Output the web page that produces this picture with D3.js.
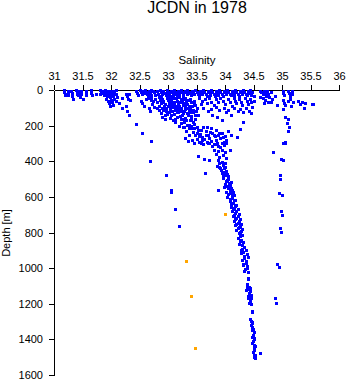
<!DOCTYPE html>
<html>
<head>
<meta charset="utf-8">
<script src="https://cdn.jsdelivr.net/npm/d3@7"></script>
<style>
  html, body { margin: 0; padding: 0; background: #fff; }
  svg { display: block; font-family: "Liberation Sans", Arial, Helvetica, sans-serif; }
</style>
</head>
<body>
<svg id="chart" width="348" height="384"></svg>
<script>
// Axis ticks
const salinityTicks = [31, 31.5, 32, 32.5, 33, 33.5, 34, 34.5, 35, 35.5, 36];
const depthTicks = [0, 200, 400, 600, 800, 1000, 1200, 1400, 1600];

// Bottle samples as [salinity, depth in m]
const surfaceLayer = [
  [31.18,2],[31.18,12],[31.19,22],[31.2,30],[31.24,5],[31.25,15],[31.25,28],[31.3,3],[31.31,18],[31.32,35],
  [31.34,48],[31.39,2],[31.4,10],[31.41,20],[31.42,30],[31.44,5],[31.45,15],[31.46,40],[31.48,25],[31.5,50],[31.47,8],
  [31.56,5],[31.57,20],[31.56,30],[31.65,2],[31.65,15],[31.66,28],[31.74,22],
  [31.8,2],[31.82,12],[31.8,25],[31.85,5],[31.86,18],[31.87,30],[31.9,2],[31.9,10],[31.92,22],[31.93,35],
  [31.95,5],[31.96,15],[31.97,28],[31.98,40],[32.0,3],[32.0,12],[32.02,20],[32.03,32],[32.05,5],[32.06,15],
  [32.08,25],[32.09,2],[32.1,40],[32.19,45],[32.26,20],[32.28,35],[32.3,48],[32.32,25],
  [32.44,5],[32.46,18],[32.48,30],[32.5,2],[32.52,12],[32.54,25],[32.56,5],[32.58,15],[32.6,2],[32.62,10],
  [32.63,22],[32.65,32],[32.67,5],[32.68,15],[32.7,2],[32.71,28],
  [32.74,3],[32.76,14],[32.78,26],[32.8,6],[32.82,20],[32.84,34],[32.86,2],[32.88,12],[32.9,24],[32.92,5],
  [32.94,16],[32.96,30],[32.98,2],[33.0,10],[33.02,20],[33.03,36],[33.05,4],[33.07,14],[33.09,26],[33.1,2],
  [33.12,10],[33.14,20],[33.15,32],[33.17,5],[33.19,15],[33.2,26],[33.22,2],[33.24,10],[33.26,20],[33.27,34],
  [33.29,4],[33.31,14],[33.33,24],[33.34,2],[33.36,10],[33.38,18],[33.4,30],[33.42,4],[33.44,14],[33.46,24],
  [33.48,2],[33.5,10],[33.52,20],[33.54,32],[33.56,5],[33.58,15],[33.6,25],[33.62,2],[33.64,12],[33.66,22],
  [33.68,34],[33.7,4],[33.72,14],[33.74,26],[33.76,2],[33.78,10],[33.8,20],[33.82,32],[33.84,5],[33.86,15],
  [33.88,26],[33.9,2],[33.92,10],[33.94,22],[33.96,34],[33.98,4],[34.0,14],[34.02,24],[34.04,2],[34.06,12],
  [34.08,20],[34.1,30],[34.12,5],[34.14,15],[34.16,26],[34.18,2],[34.2,10],[34.22,20],[34.24,34],[34.26,4],
  [34.28,14],[34.3,24],[34.32,2],[34.34,12],[34.36,20],[34.38,30],[34.4,6],[34.42,16],[34.44,2],[34.46,26],
  [34.48,10],[34.5,36],
  [34.62,3],[34.64,14],[34.66,25],[34.68,5],[34.7,18],[34.72,32],[34.74,8],[34.76,20],[34.78,40],[34.8,12],
  [34.88,34],[35.02,3],[35.02,15],[35.03,28],[35.1,5],[35.12,18],[35.14,32],[35.17,8],[35.18,25]
];

const mixedLayer = [
  [31.92,50],[31.95,60],[31.96,75],[32.0,55],[32.02,68],[32.03,85],[32.05,50],[31.98,90],[32.08,62],
  [32.14,73],[32.2,100],[32.26,90],[32.28,118],[32.31,140],[32.33,55],
  [32.53,60],[32.55,75],[32.58,90],[32.62,50],[32.66,45],[32.7,58],[32.67,100],[32.68,118],
  [32.7,45],[32.74,60],[32.72,78],[32.78,50],[32.8,68],[32.76,95],[32.84,42],[32.86,55],[32.88,75],[32.85,88],
  [32.8,100],[32.85,115],[32.9,150],[32.95,165],
  [32.9,48],[32.92,62],[32.94,80],[32.96,100],[32.92,115],[32.98,45],[33.0,58],[33.02,72],[33.0,90],[33.04,105],
  [33.02,125],[33.06,50],[33.08,65],[33.1,82],[33.08,98],[33.12,112],[33.1,135],[33.14,45],[33.16,60],[33.18,75],
  [33.15,92],[33.2,108],[33.18,125],[33.16,150],[33.22,52],[33.24,68],[33.26,85],[33.23,100],[33.28,118],[33.25,140],
  [33.22,165],[33.3,45],[33.32,62],[33.34,80],[33.3,95],[33.36,110],[33.33,130],[33.3,155],[33.28,180],[33.38,50],
  [33.4,70],[33.42,90],[33.39,105],[33.44,125],[33.4,145],[33.38,170],[33.36,195],[33.46,60],[33.48,82],[33.5,100],
  [33.47,118],[33.52,140],[33.48,165],[33.45,190],[33.5,210],
  [32.87,40],[32.89,58],[32.91,70],[32.93,88],[32.95,105],[32.97,120],[32.99,135],[32.88,130],[32.9,100],[32.94,140],
  [33.01,40],[33.03,62],[33.05,80],[33.06,95],[33.07,118],[33.05,140],[33.04,155],[33.08,170],[33.09,45],[33.11,70],
  [33.13,88],[33.14,105],[33.15,125],[33.13,160],[33.12,180],[33.19,40],[33.21,65],[33.2,88],[33.22,120],[33.21,145],
  [33.23,185],[33.26,50],[33.27,75],[33.29,105],[33.27,130],[33.26,160],[33.31,80],[33.33,100],[33.35,140],[33.32,170],
  [33.35,55],[33.37,90],[33.39,125],[33.41,160],[33.43,110],[33.45,75],[33.47,140],[33.43,180],[33.49,120],[33.41,200],
  [33.37,215],[33.33,195],[33.19,200],[33.26,205],
  [33.55,45],[33.6,60],[33.58,80],[33.65,50],[33.68,72],[33.62,100],[33.7,120],[33.72,45],[33.76,65],[33.8,85],
  [33.75,105],[33.78,140],[33.85,50],[33.88,70],[33.84,95],[33.9,115],[33.86,150],[33.92,45],[33.96,60],[34.0,80],
  [33.98,100],[34.02,125],[33.95,170],[34.05,50],[34.08,65],[34.12,90],[34.06,110],[34.1,140],[34.15,45],[34.18,60],
  [34.2,75],[34.16,100],[34.22,120],[34.25,50],[34.28,65],[34.3,85],[34.26,105],[34.32,125],[34.35,45],[34.38,60],
  [34.4,80],[34.36,100],[34.42,120],[34.44,50],[34.46,70],[34.48,95],[34.45,130],[34.5,60],
  [34.66,45],[34.7,55],[34.75,65],[34.8,70],[34.82,52],[34.68,75],[34.62,40],[34.91,84],
  [35.02,55],[35.03,75],[35.02,107],[35.06,85],[35.1,62],[35.14,50],[35.16,92],[35.2,70],
  [35.28,62],[35.32,80],[35.38,100],[35.35,70],[35.4,75],[35.53,80],[35.54,78]
];

const thermocline = [
  [32.44,191],[32.54,241],[32.7,286],[32.69,399],[32.96,477],[33.05,563],[33.06,575],[33.12,668],[33.2,763],
  [33.28,210],[33.32,230],[33.36,250],[33.3,270],[33.4,215],[33.44,235],[33.48,255],[33.42,280],[33.52,225],
  [33.56,245],[33.6,265],[33.55,290],[33.62,205],[33.66,230],[33.7,250],[33.64,275],[33.7,300],[33.75,215],
  [33.78,240],[33.82,260],[33.76,285],[33.85,225],[33.88,250],[33.92,270],[33.86,300],[33.95,240],[34.0,260],
  [34.05,230],[34.1,250],[33.98,290],[34.21,264],[34.26,219],[34.32,180],
  [33.45,215],[33.5,240],[33.54,260],[33.58,225],[33.6,282],[33.66,250],[33.68,210],[33.72,270],[33.74,235],
  [33.8,250],[33.84,280],[33.9,240],[33.94,300],[33.96,265],[34.02,280],[33.8,305],[33.88,315],[33.68,290],
  [33.58,300],[33.5,275],
  [33.35,285],[33.45,295],[33.62,305],[33.72,300],[33.78,315],[33.85,305],[33.92,320],[33.98,310],[34.02,295],
  [33.8,335],[33.88,345],[33.95,335],[34.0,350],[34.09,337],[33.84,360],[33.9,375],[33.96,365],[34.02,380],
  [33.53,371],[33.63,388],[33.72,392],[33.88,395],[33.94,405],[34.0,410],[33.86,425],[33.92,440],
  [33.9,410],[33.96,420],[34.0,430],[33.65,466],[33.88,561]
];

const deepProfile = [
  [33.9,430],[33.98,440],[34.02,455],[33.94,465],[34.0,475],[34.06,485],[33.96,495],[34.04,505],[34.1,515],
  [34.0,525],[34.08,535],[33.98,545],[34.06,550],[34.12,560],[34.02,570],[34.1,580],[34.16,590],[34.04,600],
  [34.12,608],[34.18,615],[34.08,625],[34.14,635],[34.2,645],[34.1,655],[34.16,662],[34.22,670],[34.12,680],
  [34.18,690],[34.24,698],[34.14,708],[34.2,718],[34.26,725],[34.16,735],[34.22,745],[34.28,752],[34.18,760],
  [34.24,770],[34.3,778],[34.2,785],[34.26,795],
  [33.93,450],[33.99,460],[34.03,470],[33.97,480],[34.05,498],[34.01,510],[34.07,520],[34.04,540],[34.1,548],
  [34.08,565],[34.14,572],[34.06,585],[34.13,595],[34.09,610],[34.15,620],[34.11,640],[34.18,650],[34.14,668],
  [34.2,678],[34.16,700],[34.22,710],[34.18,725],[34.24,735],[34.2,750],[34.26,762],[34.22,775],[34.28,790],
  [34.24,805],[34.3,815],[34.26,820],
  [34.22,830],[34.28,840],[34.32,855],[34.25,865],[34.3,890],[34.36,900],[34.28,915],[34.34,930],[34.4,940],
  [34.3,955],[34.36,970],[34.32,985],[34.38,1000],[34.34,1015],[34.4,1055],[34.38,1100],[34.44,1110],[34.36,1125],
  [34.42,1140],[34.46,1150],[34.4,1165],[34.44,1180],[34.42,1195],[34.47,1246],[34.44,1285],[34.48,1300],
  [34.46,1318],[34.49,1340],[34.5,1360],[34.47,1385],[34.5,1400],[34.48,1420],[34.52,1435],[34.5,1450],
  [34.49,1470],[34.52,1485],[34.51,1500],[34.61,1476],
  [34.26,845],[34.3,870],[34.33,880],[34.28,900],[34.32,910],[34.38,920],[34.33,945],[34.36,960],[34.31,975],
  [34.38,990],[34.35,1005],[34.4,1020],[34.41,1060],[34.39,1090],[34.42,1105],[34.38,1115],[34.44,1130],
  [34.41,1155],[34.45,1170],[34.43,1185],[34.46,1200],[34.47,1240],[34.45,1295],[34.47,1310],[34.48,1330],
  [34.48,1350],[34.49,1375],[34.51,1395],[34.49,1410],[34.5,1430],[34.51,1460],[34.5,1490],[34.53,1505]
];

const offshoreProfile = [
  [35.05,150],[35.1,165],[35.08,185],[35.12,210],[35.1,230],[35.05,290],[35.02,297],[35.06,297],
  [34.84,348],[34.98,385],[35.02,395],[34.97,478],[34.97,500],[34.94,580],[35.0,590],[34.99,680],[35.0,700],
  [34.96,775],[34.98,795],[34.92,975],[34.94,995],[34.88,1170],[34.9,1195]
];

// Flagged samples
const flaggedSamples = [[34.0,695],[33.32,962],[33.41,1157],[33.48,1451]];

const blueSamples = [].concat(surfaceLayer, mixedLayer, thermocline, deepProfile, offshoreProfile);

const svg = d3.select("#chart");
const x = d3.scaleLinear().domain([31, 36]).range([54, 339]);
const y = d3.scaleLinear().domain([0, 1600]).range([90, 375]);

// Title
svg.append("text")
  .attr("x", 197).attr("y", 13)
  .attr("text-anchor", "middle")
  .attr("font-size", 16)
  .text("JCDN in 1978");

// Salinity axis along the top
const xAxis = svg.append("g")
  .attr("transform", "translate(0,90)")
  .call(d3.axisTop(x).tickValues(salinityTicks).tickFormat(d3.format("")).tickSize(5).tickSizeOuter(0).tickPadding(5));

const yAxis = svg.append("g")
  .attr("transform", "translate(54,0)")
  .call(d3.axisLeft(y).tickValues(depthTicks).tickFormat(d3.format("")).tickSize(5).tickSizeOuter(0).tickPadding(6));

[xAxis, yAxis].forEach(g => {
  g.attr("font-family", null).attr("font-size", 11);
  g.selectAll("path, line").attr("stroke", "#000").attr("shape-rendering", "crispEdges");
  g.selectAll("text").attr("fill", "#000");
});

svg.append("text")
  .attr("x", 197).attr("y", 64)
  .attr("text-anchor", "middle")
  .attr("font-size", 11.5)
  .text("Salinity");

svg.append("text")
  .attr("transform", "translate(10,233) rotate(-90)")
  .attr("text-anchor", "middle")
  .attr("font-size", 11)
  .text("Depth [m]");

// Sample markers
function drawPoints(data, color) {
  svg.append("g")
    .attr("fill", color)
    .attr("shape-rendering", "crispEdges")
    .selectAll("rect")
    .data(data)
    .join("rect")
    .attr("x", d => Math.round(x(d[0])) - 1)
    .attr("y", d => Math.round(y(d[1])) - 1)
    .attr("width", 3)
    .attr("height", 3);
}
drawPoints(blueSamples, "#0000ff");
drawPoints(flaggedSamples, "#ffa500");
</script>
</body>
</html>
